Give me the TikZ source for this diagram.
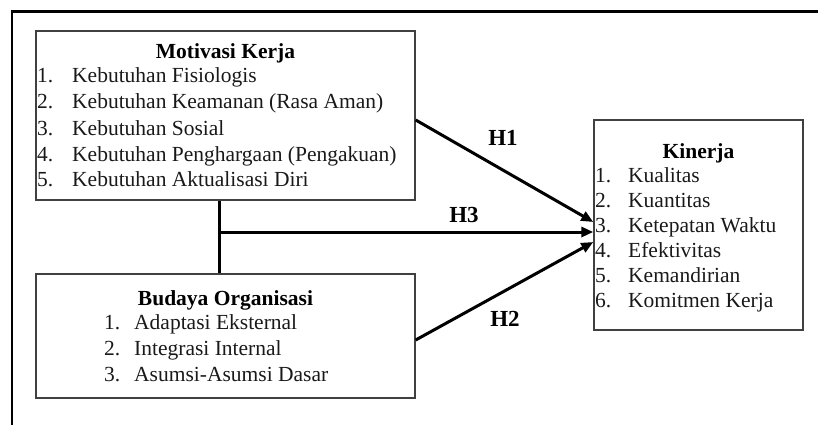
\documentclass[tikz,border=0pt]{standalone}
\usepackage{fontspec}
\setmainfont{Liberation Serif}
\usetikzlibrary{arrows.meta}
\begin{document}
\begin{tikzpicture}[x=1pt,y=-1pt,
  box/.style={draw=black!75, line width=1.4pt, inner sep=0pt, fill=none},
  txt/.style={anchor=base west, inner sep=0pt, text=black!90, font=\fontsize{21.5}{25}\selectfont},
  ttl/.style={anchor=base, inner sep=0pt, font=\fontsize{21.5}{25}\selectfont\bfseries},
  hyp/.style={inner sep=0pt, font=\fontsize{23}{27}\selectfont\bfseries},
  arr/.style={line width=3pt, -{Triangle[length=12pt,width=10pt]}},
  frameline/.style={line width=2.5pt},
  conn/.style={line width=3pt}]
\useasboundingbox (0,0) rectangle (818,425);
% outer frame
\coordinate (fc) at (12,11.5);
\draw[frameline] (818,11.5) -- (fc) -- (12,425);
% boxes
\node[box, minimum width=379pt, minimum height=169pt] (mot) at (225.5,115.5) {};
\node[box, minimum width=379pt, minimum height=124pt] (bud) at (225.5,336) {};
\node[box, minimum width=209pt, minimum height=210pt] (kin) at (698.5,225) {};
% Motivasi Kerja
\node[ttl] (mt) at (225.5,59) {Motivasi Kerja};
\node[txt] (m1) at (37,83) {\makebox[35pt][l]{1.}Kebutuhan Fisiologis};
\node[txt] (m2) at (37,109) {\makebox[35pt][l]{2.}Kebutuhan Keamanan (Rasa Aman)};
\node[txt] (m3) at (37,135) {\makebox[35pt][l]{3.}Kebutuhan Sosial};
\node[txt] (m4) at (37,161) {\makebox[35pt][l]{4.}Kebutuhan Penghargaan (Pengakuan)};
\node[txt] (m5) at (37,186) {\makebox[35pt][l]{5.}Kebutuhan Aktualisasi Diri};
% Budaya Organisasi
\node[ttl] (bt) at (225.5,305) {Budaya Organisasi};
\node[txt] (b1) at (104,329) {\makebox[30pt][l]{1.}Adaptasi Eksternal};
\node[txt] (b2) at (104,355) {\makebox[30pt][l]{2.}Integrasi Internal};
\node[txt] (b3) at (104,381) {\makebox[30pt][l]{3.}Asumsi-Asumsi Dasar};
% Kinerja
\node[ttl] (kt) at (698.5,158) {Kinerja};
\node[txt] (k1) at (595,182) {\makebox[33pt][l]{1.}Kualitas};
\node[txt] (k2) at (595,207) {\makebox[33pt][l]{2.}Kuantitas};
\node[txt] (k3) at (595,232) {\makebox[33pt][l]{3.}Ketepatan Waktu};
\node[txt] (k4) at (595,257) {\makebox[33pt][l]{4.}Efektivitas};
\node[txt] (k5) at (595,282) {\makebox[33pt][l]{5.}Kemandirian};
\node[txt] (k6) at (595,307) {\makebox[33pt][l]{6.}Komitmen Kerja};
% connectors
\coordinate (j) at (219,232);
\draw[conn] (j |- mot.south) -- (j |- bud.north);
\draw[arr] (j) -- (kin.west |- j);
\draw[arr] (mot.east |- 0,120) -- (kin.west |- 0,222);
\draw[arr] (bud.east |- 0,340) -- (kin.west |- 0,242);
% labels
\node[hyp] (h1) at (503,138) {H1};
\node[hyp] (h3) at (464,215) {H3};
\node[hyp] (h2) at (505,319) {H2};
\end{tikzpicture}
\end{document}
